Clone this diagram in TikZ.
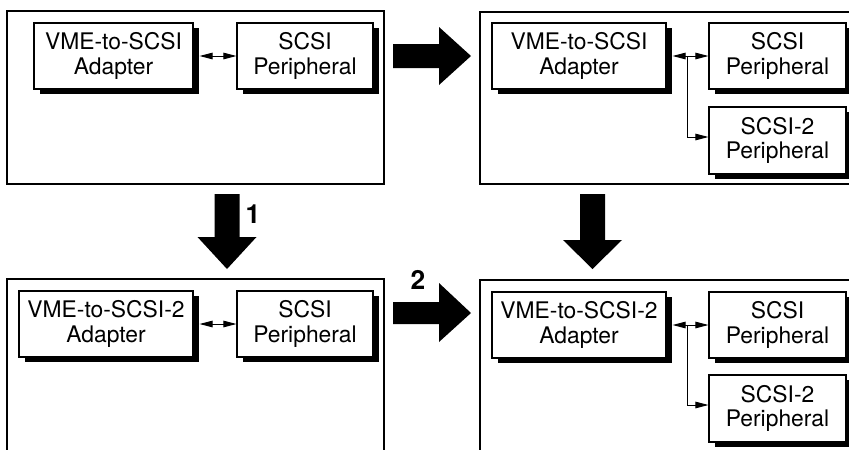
\documentclass[tikz,border=0pt]{standalone}
\usepackage{fontspec}
\setmainfont{TeX Gyre Heros}
\usetikzlibrary{shadows,arrows.meta}

\begin{document}
\begin{tikzpicture}[x=0.2cm,y=0.2cm,
		unit/.style={draw=black, line width=0.6pt, fill=white, align=center,
			minimum height=1.32cm, font=\fontsize{13}{13.8}\selectfont,
			drop shadow={shadow xshift=0.12cm, shadow yshift=-0.1cm, fill=black, opacity=1}},
		panel/.style={draw=black, line width=0.7pt},
		bus/.style={line width=0.55pt, -{Triangle[length=0.26cm,width=0.13cm]}},
		busback/.style={line width=0.55pt, {Triangle[length=0.26cm,width=0.13cm]}-},
		busboth/.style={line width=0.55pt, {Triangle[length=0.26cm,width=0.13cm]}-{Triangle[length=0.26cm,width=0.13cm]}},
		bigarrow/.style={fill=black},
		stepnum/.style={font=\bfseries\fontsize{15}{15}\selectfont}]
		\tikzstyle{every node}+=[inner sep=0pt]
		\useasboundingbox (0,0) rectangle (84.9,-44.9);
		\clip (0,0) rectangle (84.9,-44.9);
		% panels
		\draw [panel] (0.7,-1.1) rectangle (38.4,-18.4);
		\draw [panel] (48.0,-1.2) rectangle (87,-18.4);
		\draw [panel] (0.7,-27.9) rectangle (38.4,-47);
		\draw [panel] (48.0,-28.0) rectangle (87,-47);
		% big arrows
		\fill [bigarrow] (39.3,-4.4) -- (43.9,-4.4) -- (43.9,-2.7) -- (47.1,-5.6) -- (43.9,-8.5) -- (43.9,-6.8) -- (39.3,-6.8) -- cycle;
		\fill [bigarrow] (39.3,-30.2) -- (43.9,-30.2) -- (43.9,-28.3) -- (47.1,-31.3) -- (43.9,-34.2) -- (43.9,-32.4) -- (39.3,-32.4) -- cycle;
		\fill [bigarrow] (21.45,-19.4) -- (23.95,-19.4) -- (23.95,-23.7) -- (25.65,-23.7) -- (22.7,-26.9) -- (19.75,-23.7) -- (21.45,-23.7) -- cycle;
		\fill [bigarrow] (58.0,-19.4) -- (60.5,-19.4) -- (60.5,-24.0) -- (62.2,-24.0) -- (59.25,-26.9) -- (56.3,-24.0) -- (58.0,-24.0) -- cycle;
		\node [stepnum] (one) at (25.3,-21.4) {1};
		\node [stepnum] (two) at (41.8,-28.0) {2};
		% top left
		\node [unit, minimum width=3.18cm] (adapA) at (11.35,-5.6) {VME-to-SCSI\\Adapter};
		\node [unit, minimum width=2.72cm] (periA) at (30.5,-5.6) {SCSI\\Peripheral};
		\draw [busboth] ([xshift=0.12cm]adapA.east) -- (periA.west);
		% top right
		\node [unit, minimum width=3.48cm] (adapB) at (57.9,-5.6) {VME-to-SCSI\\Adapter};
		\node [unit, minimum width=2.74cm] (periB) at (77.75,-5.6) {SCSI\\Peripheral};
		\node [unit, minimum width=2.74cm, minimum height=1.34cm] (peri2B) at (77.75,-14.05) {SCSI-2\\Peripheral};
		\coordinate (tapB) at (68.7,-5.6);
		\draw [busback] ([xshift=0.12cm]adapB.east) -- (tapB);
		\draw [bus] (tapB) -- (periB.west);
		\draw [bus] (tapB) |- ([yshift=0.07cm]peri2B.west);
		% bottom left
		\node [unit, minimum width=3.48cm] (adapC) at (10.6,-32.4) {VME-to-SCSI-2\\Adapter};
		\node [unit, minimum width=2.72cm] (periC) at (30.5,-32.4) {SCSI\\Peripheral};
		\draw [busboth] ([xshift=0.12cm]adapC.east) -- (periC.west);
		% bottom right
		\node [unit, minimum width=3.48cm] (adapD) at (57.9,-32.5) {VME-to-SCSI-2\\Adapter};
		\node [unit, minimum width=2.74cm] (periD) at (77.75,-32.5) {SCSI\\Peripheral};
		\node [unit, minimum width=2.74cm, minimum height=1.34cm] (peri2D) at (77.75,-40.85) {SCSI-2\\Peripheral};
		\coordinate (tapD) at (68.7,-32.5);
		\draw [busback] ([xshift=0.12cm]adapD.east) -- (tapD);
		\draw [bus] (tapD) -- (periD.west);
		\draw [bus] (tapD) |- ([yshift=0.07cm]peri2D.west);
\end{tikzpicture}
\end{document}
